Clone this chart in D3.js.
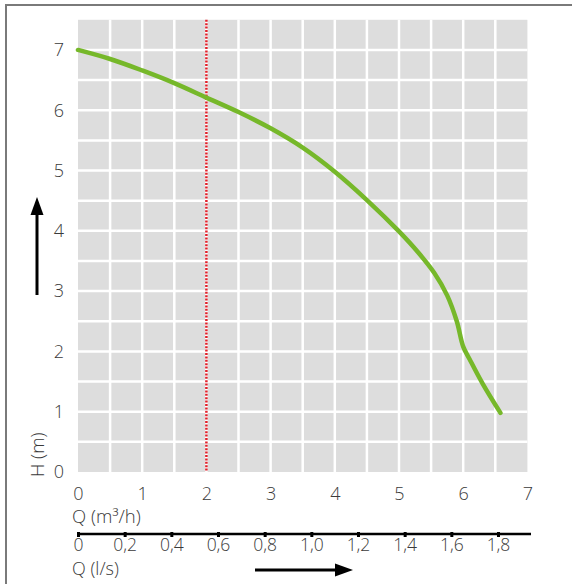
<!DOCTYPE html>
<html><head><meta charset="utf-8">
<script src="https://cdn.jsdelivr.net/npm/d3@7"></script>
<style>
body{margin:0;background:#fff;}
text{font-family:"Source Sans Pro","Open Sans",Lato,sans-serif;font-weight:300;fill:#3a3a3a;}
</style></head>
<body><svg id="c" width="572" height="584"></svg>
<script>
// Data
const flowQ = [0, 0.5, 1, 1.5, 2, 2.5, 3, 3.5, 4, 4.5, 5, 5.3, 5.55, 5.75, 5.9, 6.0, 6.1, 6.3, 6.58];
const headH = [7.0, 6.85, 6.66, 6.45, 6.21, 5.97, 5.70, 5.38, 4.98, 4.51, 3.99, 3.64, 3.30, 2.93, 2.50, 2.08, 1.87, 1.47, 0.98];
const xTicks = [0, 1, 2, 3, 4, 5, 6, 7];
const yTicks = [0, 1, 2, 3, 4, 5, 6, 7];
const lsTicks = [0, 0.2, 0.4, 0.6, 0.8, 1.0, 1.2, 1.4, 1.6, 1.8];
const lsLabels = ["0", "0,2", "0,4", "0,6", "0,8", "1,0", "1,2", "1,4", "1,6", "1,8"];
const refQ = 2;

const svg = d3.select("#c");
const x = d3.scaleLinear().domain([0, 7]).range([78, 527.4]);
const y = d3.scaleLinear().domain([0, 7.5]).range([472, 19.8]);
const xls = d3.scaleLinear().domain([0, 1.8]).range([78, 498]);

// frame
svg.append("path").attr("d", "M6,584V5H572").attr("fill", "none").attr("stroke", "#7a7a7a").attr("stroke-width", 2);

// plot background
svg.append("rect").attr("x", x(0)).attr("y", y(7.5)).attr("width", x(7) - x(0)).attr("height", y(0) - y(7.5)).attr("fill", "#dddddd");

// grid
const gx = d3.range(1, 14).map(d => d / 2);
const gy = d3.range(1, 15).map(d => d / 2);
svg.append("g").selectAll("line").data(gx).join("line")
  .attr("x1", d => x(d)).attr("x2", d => x(d)).attr("y1", y(7.5)).attr("y2", y(0))
  .attr("stroke", "#fff").attr("stroke-width", 2.5);
svg.append("g").selectAll("line").data(gy).join("line")
  .attr("y1", d => y(d)).attr("y2", d => y(d)).attr("x1", x(0)).attr("x2", x(7))
  .attr("stroke", "#fff").attr("stroke-width", 2.5);

// reference line
svg.append("line").attr("x1", x(refQ)).attr("x2", x(refQ)).attr("y1", y(7.5)).attr("y2", y(0))
  .attr("stroke", "#e0202a").attr("stroke-width", 2.5).attr("stroke-dasharray", "2,1.4");

// curve
const pts = flowQ.map((q, i) => [q, headH[i]]);
svg.append("path").datum(pts)
  .attr("d", d3.line().x(d => x(d[0])).y(d => y(d[1])).curve(d3.curveCatmullRom.alpha(0.5)))
  .attr("fill", "none").attr("stroke", "#76b82a").attr("stroke-width", 4.5).attr("stroke-linecap", "round");

// y axis labels
const yAxis = d3.axisLeft(y).tickValues(yTicks).tickSize(0).tickPadding(0).tickFormat(d3.format("d"));
const ya = svg.append("g").attr("transform", "translate(64,0)").call(yAxis);
ya.select(".domain").remove();
ya.selectAll("text").attr("font-size", 18).attr("fill", "#3a3a3a").style("font-family", null);

// x axis labels
const xAxis = d3.axisBottom(x).tickValues(xTicks).tickSize(0).tickPadding(0).tickFormat(d3.format("d"));
const xa = svg.append("g").attr("transform", "translate(0,487)").call(xAxis);
xa.select(".domain").remove();
xa.selectAll("text").attr("font-size", 18).attr("fill", "#3a3a3a").style("font-family", null);

// x axis title
svg.append("text").attr("x", 72).attr("y", 523).attr("font-size", 18.5).text("Q (m³/h)");

// second axis l/s
const lsAxis = d3.axisBottom(xls).tickValues(lsTicks).tickSize(3).tickPadding(2).tickSizeOuter(0)
  .tickFormat((d, i) => lsLabels[i]);
const la = svg.append("g").attr("transform", "translate(0,534)").call(lsAxis);
la.select(".domain").attr("d", "M78,0H531").attr("stroke", "#000").attr("stroke-width", 2.5);
la.selectAll(".tick line").attr("stroke", "#000").attr("stroke-width", 3).attr("y1", -2);
la.selectAll("text").attr("font-size", 17.5).attr("fill", "#3a3a3a").style("font-family", null);
svg.append("text").attr("x", 72).attr("y", 575).attr("font-size", 18).text("Q (l/s)");

// H label
svg.append("text").attr("transform", "translate(44,477) rotate(-90)").attr("font-size", 18.5).text("H (m)");

// arrows
svg.append("line").attr("x1", 37).attr("x2", 37).attr("y1", 295).attr("y2", 212)
  .attr("stroke", "#000").attr("stroke-width", 3);
svg.append("path").attr("d", "M30.5,215L37,197L43.5,215Z").attr("fill", "#000");
svg.append("line").attr("x1", 255).attr("x2", 338).attr("y1", 570).attr("y2", 570)
  .attr("stroke", "#000").attr("stroke-width", 3);
svg.append("path").attr("d", "M335,563.5L353,570L335,576.5Z").attr("fill", "#000");
</script></body></html>
